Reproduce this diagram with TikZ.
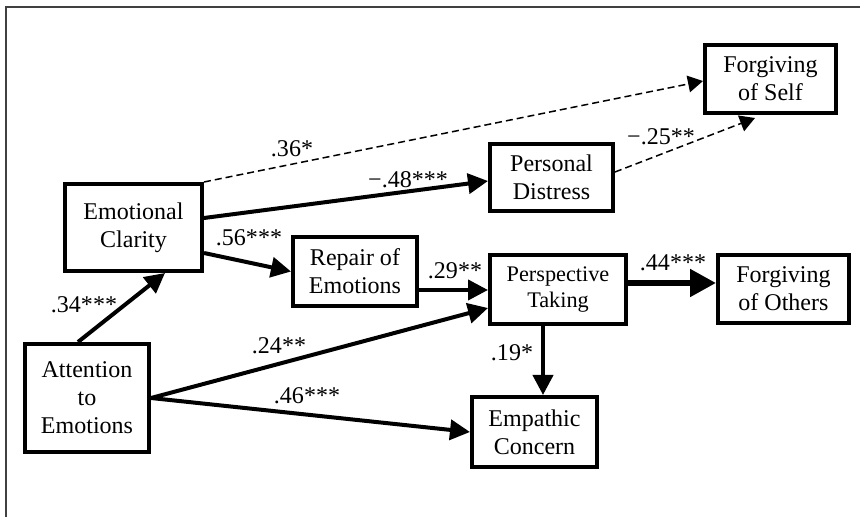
\documentclass[tikz,border=0pt]{standalone}
\usepackage{fontspec}
\setmainfont{Liberation Serif}
\usetikzlibrary{arrows.meta,calc}
\tikzset{
  varbox/.style={draw, line width=0.12cm, fill=white, inner sep=2pt,
                 align=center, font=\fontsize{20.5}{24}\selectfont},
  coef/.style={inner sep=0pt, font=\fontsize{20.5}{24}\selectfont},
  arr/.style={-{Triangle[length=0.6cm,width=0.6cm]}, line width=0.12cm},
  bigarr/.style={-{Triangle[length=0.78cm,width=0.8cm]}, line width=0.18cm},
  darr/.style={-{Triangle[length=0.45cm,width=0.5cm]}, line width=0.045cm,
               dash pattern=on 0.21cm off 0.12cm}}

\begin{document}
\begin{tikzpicture}[x=0.03cm, y=-0.03cm]
    \useasboundingbox (0,0) rectangle (860,517);
    \draw[line width=0.05cm, black!75] (6,517) -- (6,7) -- (860,7);
    % variables
    \node[varbox, minimum width=4.11cm, minimum height=2.61cm] (ec) at (133.5,227.5)
      {Emotional\\Clarity};
    \node[varbox, minimum width=3.72cm, minimum height=3.24cm] (ae) at (87,398)
      {Attention\\to\\Emotions};
    \node[varbox, minimum width=3.72cm, minimum height=2.07cm] (re) at (355,271.5)
      {Repair of\\Emotions};
    \node[varbox, minimum width=3.69cm, minimum height=2.01cm] (pd) at (551.5,177.5)
      {Personal\\Distress};
    \node[varbox, minimum width=3.93cm, minimum height=2.04cm] (fs) at (770.5,79)
      {Forgiving\\of Self};
    \node[varbox, minimum width=4.08cm, minimum height=2.07cm,
          font=\fontsize{19}{22}\selectfont] (ptk) at (558,289.5)
      {Perspective\\Taking};
    \node[varbox, minimum width=3.93cm, minimum height=2.04cm] (fo) at (783.5,289)
      {Forgiving\\of Others};
    \node[varbox, minimum width=3.75cm, minimum height=2.10cm] (emc) at (534.5,432)
      {Empathic\\Concern};
    % paths
    \draw[arr] ($(ae.north)+(-9,0)$) -- ($(ec.south)+(31.5,0)$);
    \draw[arr] ($(ec.east)+(0,25.5)$) -- (re.west);
    \draw[arr] ($(ec.east)+(0,-9.5)$) -- ($(pd.west)+(0,3.5)$);
    \draw[darr] (ec.north east) -- ($(fs.west)+(0,2)$);
    \draw[darr] ($(pd.east)+(0,-5.5)$) -- ($(fs.south)+(-15.5,3)$);
    \draw[arr] ($(re.east)+(0,18.5)$) -- (ptk.west|-{$(re.east)+(0,18.5)$});
    \draw[arr] (ae.east) -- ($(ptk.west)+(0,18.5)$);
    \draw[arr] (ae.east) -- (emc.west);
    \draw[arr] ($(ptk.south)+(-15,0)$) -- ($(emc.north)+(8.5,0)$);
    \draw[bigarr] ($(ptk.east)+(0,-6.5)$) -- ($(fo.west)+(0,-6)$);
    % coefficients
    \node[coef] (c34) at (84,305) {.34***};
    \node[coef] (c56) at (249,238) {.56***};
    \node[coef] (c36) at (292,149) {.36*};
    \node[coef] (c48) at (408,180) {−.48***};
    \node[coef] (c25) at (661,137) {−.25**};
    \node[coef] (c29) at (455,271) {.29**};
    \node[coef] (c44) at (673,263) {.44***};
    \node[coef] (c19) at (512,353) {.19*};
    \node[coef] (c24) at (279,346) {.24**};
    \node[coef] (c46) at (307,396) {.46***};
\end{tikzpicture}
\end{document}
